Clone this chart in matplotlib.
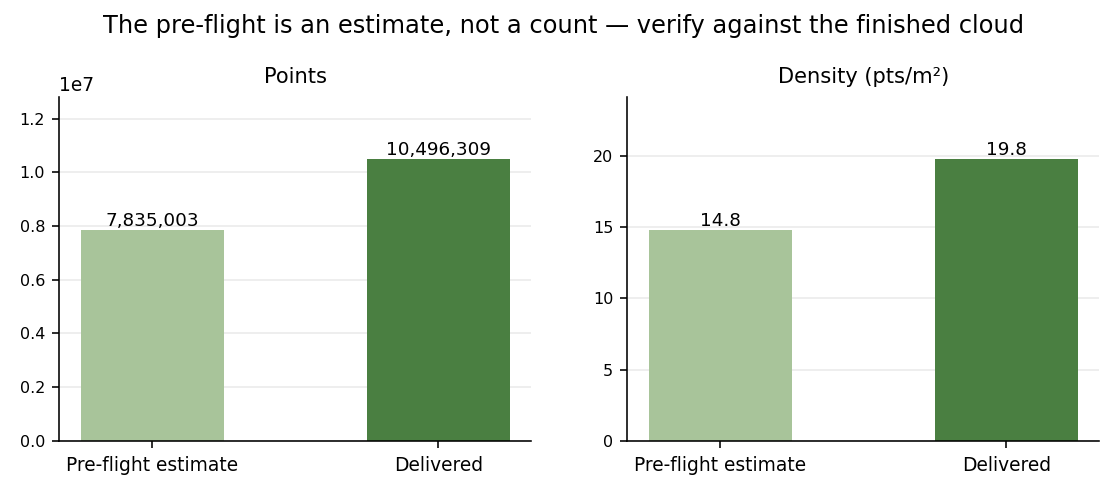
import matplotlib.pyplot as plt

categories = ["Pre-flight estimate", "Delivered"]
points = [7835003, 10496309]
density = [14.8, 19.8]
colors = ["#a8c49a", "#4a7f41"]

fig, (ax1, ax2) = plt.subplots(1, 2, figsize=(7.75, 3.4167), dpi=144)

# --- left panel: point counts ---
bars = ax1.bar(categories, points, width=0.5, color=colors, zorder=2)
for b, v in zip(bars, points):
    ax1.text(b.get_x() + b.get_width() / 2, v, f"{v:,}", ha="center", va="bottom", fontsize=9.2)
ax1.set_ylim(0, max(points) * 1.22)
ax1.set_title("Points", fontsize=10.5, pad=7)

# --- right panel: density ---
bars = ax2.bar(categories, density, width=0.5, color=colors, zorder=2)
for b, v in zip(bars, density):
    ax2.text(b.get_x() + b.get_width() / 2, v, f"{v:.1f}", ha="center", va="bottom", fontsize=9.2)
ax2.set_ylim(0, max(density) * 1.22)
ax2.set_title("Density (pts/m²)", fontsize=10.5, pad=7)

for ax in (ax1, ax2):
    ax.spines["top"].set_visible(False)
    ax.spines["right"].set_visible(False)
    ax.grid(axis="y", color="#ebebeb", linewidth=0.8, zorder=0)
    ax.tick_params(axis="x", labelsize=9.3, pad=4)
    ax.tick_params(axis="y", labelsize=8.0)
ax1.yaxis.get_offset_text().set_fontsize(9.3)

fig.suptitle("The pre-flight is an estimate, not a count — verify against the finished cloud",
             fontsize=12.05, x=0.505, y=0.947, va="center")
fig.subplots_adjust(left=0.053, right=0.985, top=0.803, bottom=0.104, wspace=0.203)
fig.savefig("out.png")
